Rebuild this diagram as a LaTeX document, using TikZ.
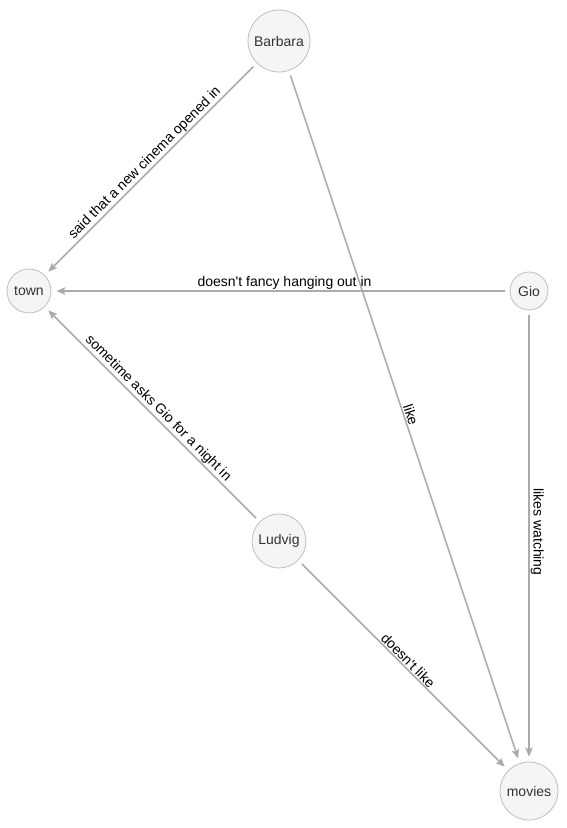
\documentclass[tikz,border=0pt]{standalone}
\usepackage{fontspec}
\setmainfont{Liberation Sans}
\usetikzlibrary{arrows.meta}
\definecolor{entfill}{RGB}{245,245,247}
\definecolor{entline}{RGB}{190,190,190}
\definecolor{relline}{RGB}{170,170,170}
\begin{document}
\begin{tikzpicture}[x=1pt,y=-1pt,
  ent/.style={circle,draw=entline,fill=entfill,line width=0.8pt,inner sep=0pt,text=black!80,font=\fontsize{14}{16}\selectfont},
  rel/.style={draw=relline,line width=1.5pt,shorten <=5pt,shorten >=5pt,-{Stealth[length=9pt,width=7.5pt,inset=2pt]}},
  lbl/.style={midway,sloped,above,inner sep=1pt,text=black,font=\fontsize{14}{16}\selectfont}]
\useasboundingbox (0,0) rectangle (566,828);
\node[ent,minimum size=62pt] (barbara) at (279,41) {Barbara};
\node[ent,minimum size=44pt] (town) at (29,291) {town};
\node[ent,minimum size=38pt] (gio) at (529,291) {Gio};
\node[ent,minimum size=54pt] (ludvig) at (279,541) {Ludvig};
\node[ent,minimum size=58pt] (movies) at (529,791) {movies};
\draw[rel] (barbara) -- (town) node[lbl] {said that a new cinema opened in};
\draw[rel] (barbara) -- (movies) node[lbl] {like};
\draw[rel] (gio) -- (town) node[lbl,xshift=4pt] {doesn\textquotesingle t fancy hanging out in};
\draw[rel] (gio) -- (movies) node[lbl,xshift=-4pt] {likes watching};
\draw[rel] (ludvig) -- (town) node[lbl] {sometime asks Gio for a night in};
\draw[rel] (ludvig) -- (movies) node[lbl] {doesn\textquotesingle t like};
\end{tikzpicture}
\end{document}
